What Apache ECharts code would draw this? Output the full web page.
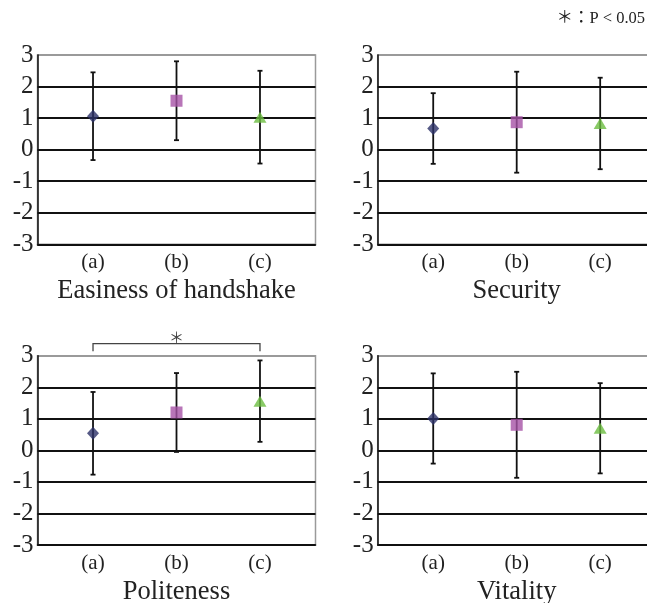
<!DOCTYPE html>
<html>
<head>
<meta charset="utf-8">
<script src="https://cdn.jsdelivr.net/npm/echarts@6/dist/echarts.min.js"></script>
<style>html,body{margin:0;padding:0;background:#fff}#c{width:647px;height:603px}</style>
</head>
<body>
<div id="c"></div>
<script>
const categories = ['(a)', '(b)', '(c)'];
const categoryPos = [1, 2, 3];
const yTicks = [-3, -2, -1, 0, 1, 2, 3];
const panelTitles = ['Easiness of handshake', 'Security', 'Politeness', 'Vitality'];
const easeMean = [1.06, 1.55, 1.03];
const easeErr = [1.39, 1.25, 1.47];
const secMean = [0.67, 0.87, 0.83];
const secErr = [1.12, 1.60, 1.45];
const polMean = [0.54, 1.20, 1.56];
const polErr = [1.31, 1.25, 1.29];
const vitMean = [1.01, 0.81, 0.70];
const vitErr = [1.43, 1.68, 1.43];
const sigPair = [1, 3];
const sigLabel = '＊';
const noteText = '＊：P < 0.05';

const means = [easeMean, secMean, polMean, vitMean];
const errs = [easeErr, secErr, polErr, vitErr];

const serif = '"Liberation Serif", "Times New Roman", serif';
const symbols = ['diamond', 'rect', 'triangle'];
const symbolSizes = [[12, 13], [12, 12], [13, 11]];
const colors = ['#2c3168', '#a652a6', '#6bbd40'];

const gridPos = [
  {left: 37.5, top: 55, width: 278, height: 189.3},
  {left: 377.7, top: 55, width: 278, height: 189.3},
  {left: 37.5, top: 355.7, width: 278, height: 189.3},
  {left: 377.7, top: 355.7, width: 278, height: 189.3}
];

const grids = [], xAxes = [], yAxes = [], series = [], graphics = [];
for (let p = 0; p < 4; p++) {
  grids.push(Object.assign({show: true, borderColor: '#9a9a9a', borderWidth: 1.5, backgroundColor: 'transparent', outerBoundsMode: 'none', containLabel: false}, gridPos[p]));
  xAxes.push({
    type: 'value', gridIndex: p, min: 0.335, max: 3.665,
    axisLine: {show: true, onZero: false, lineStyle: {color: '#111', width: 1.5}},
    axisTick: {show: false},
    splitLine: {show: false},
    axisLabel: {
      customValues: categoryPos,
      formatter: v => categories[Math.round(v) - 1],
      fontFamily: serif, fontSize: 21, color: '#222', margin: 8
    }
  });
  yAxes.push({
    type: 'value', gridIndex: p, min: yTicks[0], max: yTicks[yTicks.length - 1], interval: 1,
    axisLine: {show: true, lineStyle: {color: '#111', width: 1.5}},
    axisTick: {show: false},
    splitLine: {show: true, lineStyle: {color: ['#111', '#111', '#111', '#111', '#111', '#111', '#9a9a9a'], width: 2}},
    axisLabel: {fontFamily: serif, fontSize: 25, color: '#222', margin: 4}
  });
  const m = means[p], e = errs[p];
  series.push({
    type: 'custom', xAxisIndex: p, yAxisIndex: p,
    data: categoryPos.map((x, i) => [x, m[i] - e[i], m[i] + e[i]]),
    renderItem: (params, api) => {
      const lo = api.coord([api.value(0), api.value(1)]);
      const hi = api.coord([api.value(0), api.value(2)]);
      const st = {stroke: '#111', lineWidth: 1.8};
      return {type: 'group', children: [
        {type: 'line', shape: {x1: lo[0], y1: lo[1], x2: hi[0], y2: hi[1]}, style: st},
        {type: 'line', shape: {x1: lo[0] - 2.5, y1: lo[1], x2: lo[0] + 2.5, y2: lo[1]}, style: st},
        {type: 'line', shape: {x1: hi[0] - 2.5, y1: hi[1], x2: hi[0] + 2.5, y2: hi[1]}, style: st}
      ]};
    },
    z: 2
  });
  series.push({
    type: 'scatter', xAxisIndex: p, yAxisIndex: p,
    data: categoryPos.map((x, i) => ({
      value: [x, m[i]], symbol: symbols[i], symbolSize: symbolSizes[i],
      itemStyle: {color: colors[i]}
    })),
    z: 3
  });
  graphics.push({
    type: 'text',
    x: gridPos[p].left + (2 - 0.335) * (gridPos[p].width / 3.33),
    y: gridPos[p].top + gridPos[p].height + 47,
    style: {text: panelTitles[p], fontFamily: serif, fontSize: 26.5, fill: '#222', align: 'center', verticalAlign: 'middle'}
  });
}

// significance bracket on Politeness panel
series.push({
  type: 'custom', xAxisIndex: 2, yAxisIndex: 2, clip: false,
  data: [[sigPair[0], sigPair[1]]],
  renderItem: (params, api) => {
    const a = api.coord([api.value(0), 3.38]);
    const b = api.coord([api.value(1), 3.38]);
    const a2 = api.coord([api.value(0), 3.14]);
    const b2 = api.coord([api.value(1), 3.14]);
    const mid = api.coord([(api.value(0) + api.value(1)) / 2, 3.58]);
    return {type: 'group', children: [
      {type: 'polyline', shape: {points: [a2, a, b, b2]}, style: {stroke: '#444', lineWidth: 1.3, fill: null}},
      {type: 'text', x: mid[0], y: mid[1], style: {text: sigLabel, fontFamily: '"Noto Sans CJK JP", sans-serif', fontSize: 15, fill: '#444', align: 'center', verticalAlign: 'middle'}}
    ]};
  }
});

graphics.push({
  type: 'text', right: 2, top: 10,
  style: {text: noteText, fontFamily: serif + ', "Noto Sans CJK JP"', fontSize: 16.5, fill: '#222'}
});

const chart = echarts.init(document.getElementById('c'), null, {renderer: 'canvas'});
chart.setOption({
  animation: false,
  grid: grids, xAxis: xAxes, yAxis: yAxes, series: series, graphic: graphics
});
</script>
</body>
</html>
